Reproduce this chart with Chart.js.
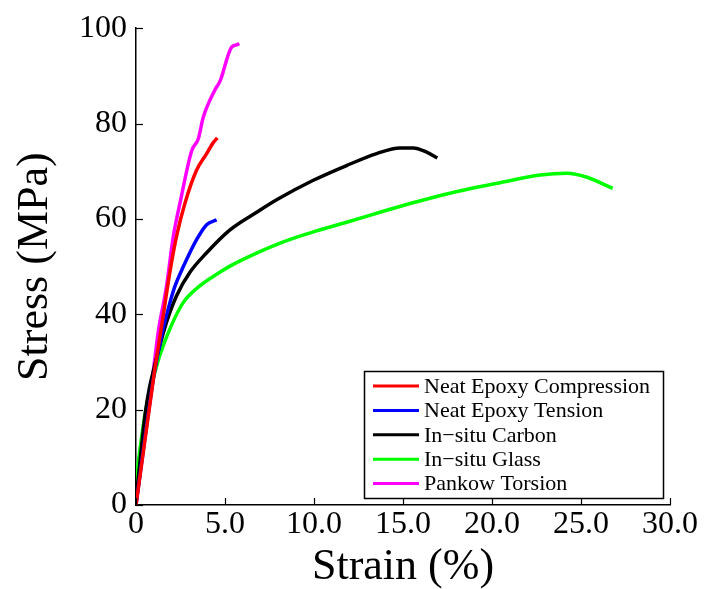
<!DOCTYPE html>
<html>
<head>
<meta charset="utf-8">
<script src="https://cdn.jsdelivr.net/npm/chart.js@4"></script>
<style>
  html, body { margin: 0; padding: 0; background: #fff; }
  #wrap { width: 705px; height: 589px; }
</style>
</head>
<body>
<div id="wrap"><canvas id="chart"></canvas></div>
<script>
// series (strain %, stress MPa)
const labels = ['Neat Epoxy Compression', 'Neat Epoxy Tension', 'In\u2212situ Carbon', 'In\u2212situ Glass', 'Pankow Torsion'];
const colors = ['#ff0000', '#0000ff', '#000000', '#00ff00', '#ff00ff'];

const compX = [0, 0.5, 1.0, 1.5, 1.91, 2.28, 2.75, 3.4, 3.97, 4.34, 4.57];
const compY = [0, 13.5, 27, 39, 49, 56.4, 63.3, 70.2, 73.7, 76, 77];

const tensX = [0, 0.5, 1.0, 1.44, 1.91, 2.2, 2.66, 3.41, 3.97, 4.53];
const tensY = [0, 14, 27, 35.6, 42.5, 46, 50, 55.7, 58.8, 59.8];

const carbX = [0, 0.25, 0.51, 0.75, 1.0, 1.25, 1.72, 2.28, 3.03, 3.97, 5.28, 6.87, 7.9, 9.96, 11.83, 13.52, 14.83, 15.58, 16.33, 16.93];
const carbY = [1, 10, 19, 24.5, 28.5, 32.2, 38.4, 43.9, 48.8, 52.9, 57.7, 61.6, 64, 68.1, 71.2, 73.7, 74.9, 74.9, 74, 72.8];

const glassX = [0, 0.25, 0.51, 0.75, 1.0, 1.35, 1.91, 2.66, 3.6, 4.53, 5.28, 6.4, 8.28, 10.15, 12.02, 13.89, 15.77, 17.64, 20.45, 22.7, 24.2, 25.3, 26.78];
const glassY = [5, 12.5, 19, 23.5, 27, 31.5, 37, 42.5, 46, 48.4, 50.1, 52.2, 55.2, 57.5, 59.5, 61.6, 63.6, 65.4, 67.6, 69.2, 69.6, 68.8, 66.4];

const torsX = [0, 0.5, 0.97, 1.25, 1.72, 2.1, 2.47, 3.13, 3.5, 3.78, 4.44, 4.72, 5.38, 5.65, 5.8];
const torsY = [0, 15, 28, 36.3, 46, 56.4, 63.3, 74.3, 76.8, 81.3, 87.1, 88.9, 96.1, 96.5, 96.8];

const xTicks = [0, 5, 10, 15, 20, 25, 30];
const yTicks = [0, 20, 40, 60, 80, 100];

const seriesX = [compX, tensX, carbX, glassX, torsX];
const seriesY = [compY, tensY, carbY, glassY, torsY];

const FONT = "'Liberation Serif', 'DejaVu Serif', serif";

// inward tick marks + boxed legend inside the plot
const extras = {
  id: 'extras',
  afterDraw(chart) {
    const ctx = chart.ctx;
    const xs = chart.scales.x, ys = chart.scales.y;
    const area = chart.chartArea;
    ctx.save();
    ctx.strokeStyle = '#000';
    ctx.lineWidth = 1.2;
    xTicks.forEach(v => {
      const px = Math.round(xs.getPixelForValue(v)) + 0.5;
      ctx.beginPath();
      ctx.moveTo(px, area.bottom);
      ctx.lineTo(px, area.bottom - 7);
      ctx.stroke();
    });
    yTicks.forEach(v => {
      const py = Math.round(ys.getPixelForValue(v)) + 0.5;
      ctx.beginPath();
      ctx.moveTo(area.left, py);
      ctx.lineTo(area.left + 7, py);
      ctx.stroke();
    });

    // legend box
    const w = 299, h = 127;
    const bx = area.right - 7 - w, by = area.bottom - 7 - h;
    ctx.fillStyle = '#fff';
    ctx.fillRect(bx, by, w, h);
    ctx.lineWidth = 1.5;
    ctx.strokeRect(bx + 0.5, by + 0.5, w, h);
    ctx.font = '22px ' + FONT;
    ctx.textBaseline = 'middle';
    ctx.textAlign = 'left';
    chart.data.datasets.forEach((ds, i) => {
      const cy = by + 15 + i * 24.4;
      ctx.strokeStyle = ds.borderColor;
      ctx.lineWidth = 3;
      ctx.beginPath();
      ctx.moveTo(bx + 9, cy);
      ctx.lineTo(bx + 55, cy);
      ctx.stroke();
      ctx.fillStyle = '#000';
      ctx.fillText(ds.label, bx + 60, cy + 1);
    });
    ctx.restore();
  }
};

new Chart(document.getElementById('chart'), {
  type: 'line',
  data: {
    datasets: labels.map((lab, i) => ({
      label: lab,
      data: seriesX[i].map((x, j) => ({ x: x, y: seriesY[i][j] })),
      borderColor: colors[i],
      backgroundColor: colors[i],
      borderWidth: 3.5,
      pointRadius: 0,
      cubicInterpolationMode: 'monotone',
      fill: false
    }))
  },
  options: {
    responsive: true,
    maintainAspectRatio: false,
    animation: false,
    layout: { padding: { top: 23, right: 35, left: 0, bottom: 0 } },
    plugins: { legend: { display: false }, tooltip: { enabled: false } },
    scales: {
      x: {
        type: 'linear',
        min: 0, max: 30,
        afterFit: s => { s.height = 84; },
        afterBuildTicks: s => { s.ticks = xTicks.map(v => ({ value: v })); },
        grid: { display: false, drawTicks: false },
        border: { display: true, color: '#000', width: 1.5 },
        ticks: {
          color: '#000',
          font: { family: FONT, size: 32 },
          padding: 0,
          maxRotation: 0,
          callback: v => v === 0 ? '0' : v.toFixed(1)
        },
        title: {
          display: true,
          text: 'Strain (%)',
          color: '#000',
          font: { family: FONT, size: 44, lineHeight: 1 },
          padding: { top: 0, bottom: 0 }
        }
      },
      y: {
        min: 0, max: 100,
        afterFit: s => { s.width = 136; },
        afterBuildTicks: s => { s.ticks = yTicks.map(v => ({ value: v })); },
        grid: { display: false, drawTicks: false },
        border: { display: true, color: '#000', width: 1.5 },
        ticks: {
          color: '#000',
          font: { family: FONT, size: 32 },
          padding: 9
        },
        title: {
          display: true,
          text: 'Stress (MPa)',
          color: '#000',
          font: { family: FONT, size: 44, lineHeight: 1 },
          padding: { top: 13, bottom: 0 }
        }
      }
    }
  },
  plugins: [extras]
});
</script>
</body>
</html>
